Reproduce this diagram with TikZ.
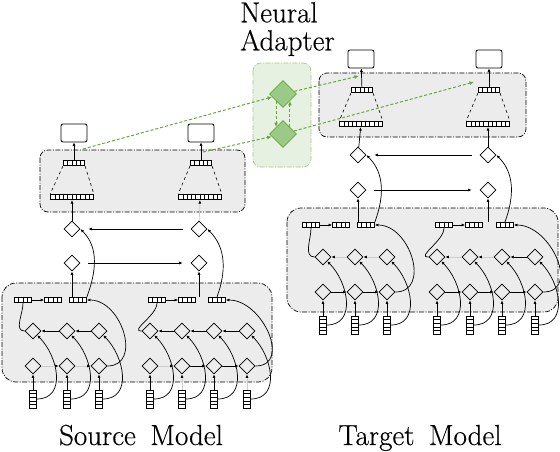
\documentclass[tikz,border=0pt]{standalone}
\usepackage{fontspec}
\usepackage{tikz}
\usetikzlibrary{shapes,arrows.meta,positioning}

\newfontfamily\captionfont[FakeBold=0.4]{Latin Modern Roman}

\definecolor{adaptgreen}{HTML}{6AA53E}
\definecolor{adaptfill}{HTML}{E7F1E2}
\definecolor{adaptdiam}{HTML}{9ACB86}
\definecolor{boxgray}{HTML}{ECECEC}

\tikzset{
  hbuf/.style={draw, fill=white, inner sep=0pt, line width=0.6pt,
    minimum height=5.5pt, minimum width=#1*4.3pt,
    path picture={\foreach \q in {1,...,#1}
      \draw ([xshift=\q*4.3pt]path picture bounding box.north west)
        -- ([xshift=\q*4.3pt]path picture bounding box.south west);}},
  vbuf/.style={draw, fill=white, inner sep=0pt, line width=0.6pt,
    minimum width=7pt, minimum height=#1*3.6pt,
    path picture={\foreach \q in {1,...,#1}
      \draw ([yshift=-\q*3.6pt]path picture bounding box.north west)
        -- ([yshift=-\q*3.6pt]path picture bounding box.north east);}},
}

\begin{document}
\begin{tikzpicture}[
    x=1pt, y=1pt,
    rnn/.style={diamond, draw, inner sep=0pt, minimum size=16pt,
                line width=0.8pt},
    adapt/.style={diamond, draw=adaptgreen, fill=adaptdiam, inner sep=0pt,
                  minimum size=27pt, line width=0.8pt},
    outbox/.style={draw, fill=white, rounded corners=2pt, inner sep=0pt,
                   minimum width=26pt, minimum height=18pt, line width=0.8pt},
    region/.style={draw, fill=boxgray, rounded corners=#1, line width=0.7pt,
                   dash pattern=on 5pt off 1.5pt on 1pt off 1.5pt},
    arrow/.style={-{Latex[length=3.5pt,width=3pt]}, line width=0.7pt},
    faint/.style={draw=black!20, line width=0.7pt,
                  -{Latex[length=3.5pt,width=3pt,color=black]}},
    link/.style={line width=0.7pt},
    funnel/.style={dashed, line width=0.6pt},
    gline/.style={draw=adaptgreen, line width=1pt, dash pattern=on 3pt off 2pt,
                  -{Latex[length=4.5pt,width=4pt]}},
    caption/.style={font=\captionfont\fontsize{29}{28}\selectfont, inner sep=0pt}
]
\useasboundingbox (0,0) rectangle (560,-452);

% shaded regions
\draw[region=14pt] (2,-283) rectangle (272,-382);
\draw[region=8pt] (40,-150) rectangle (245,-212);
\draw[region=14pt] (287,-208) rectangle (558,-312);
\draw[region=8pt] (319,-73) rectangle (526,-137);
\draw[region=8pt, draw=adaptgreen!60, fill=adaptfill] (253,-63) rectangle (311,-167);

% encoder groups
\foreach \g/\yy/\xs in {sa/0/{33,67,99}, sb/0/{150,182,214,247},
                        ta/74/{323,355,387}, tb/74/{437,470,502,535}}
  \foreach \x [count=\k] in \xs {
    \node[vbuf=5] (\g-in\k) at (\x,\yy-399) {};
    \node[rnn] (\g-lo\k) at (\x,\yy-366) {};
    \node[rnn] (\g-up\k) at (\x,\yy-331) {};
  }
\foreach \g/\yy/\xs in {sa/0/{23,53,78}, sb/0/{157,187,217},
                        ta/75/{311,341,366}, tb/75/{444,474,505}}
  \foreach \x [count=\k] in \xs
    \node[hbuf=4] (\g-buf\k) at (\x,\yy-300) {};

% decoders
\node[rnn] (sd-lo1) at (72,-263) {};
\node[rnn] (sd-lo2) at (199,-263) {};
\node[rnn] (sd-up1) at (72,-229) {};
\node[rnn] (sd-up2) at (199,-229) {};
\node[hbuf=10] (sd-wide1) at (72,-197) {};
\node[hbuf=10] (sd-wide2) at (200,-197) {};
\node[hbuf=5] (sd-narrow1) at (74,-163) {};
\node[hbuf=5] (sd-narrow2) at (201,-163) {};
\node[outbox] (sd-out1) at (74,-133) {};
\node[outbox] (sd-out2) at (201,-133) {};

\node[rnn] (td-lo1) at (358,-190) {};
\node[rnn] (td-lo2) at (488,-190) {};
\node[rnn] (td-up1) at (358,-155) {};
\node[rnn] (td-up2) at (488,-155) {};
\node[hbuf=10] (td-wide1) at (361,-124) {};
\node[hbuf=10] (td-wide2) at (488,-124) {};
\node[hbuf=5] (td-narrow1) at (362,-90) {};
\node[hbuf=5] (td-narrow2) at (489,-90) {};
\node[outbox] (td-out1) at (361,-59) {};
\node[outbox] (td-out2) at (489,-59) {};

% adapter
\node[adapt] (ad-top) at (283,-94) {};
\node[adapt] (ad-bot) at (283,-134) {};
\coordinate (src-tap1) at (83,-149);
\coordinate (src-tap2) at (203,-152);
\coordinate (tgt-tap1) at (359,-76);
\coordinate (tgt-tap2) at (474,-82);

% encoder links
\foreach \g/\n in {sa/3, sb/4, ta/3, tb/4} {
  \draw[link] (\g-up1.west) to[out=180,in=-90] (\g-buf1.south);
  \draw[arrow] (\g-buf1) -- (\g-buf2);
  \draw[arrow] (\g-lo\n.east) to[out=0,in=0,looseness=1.3] (\g-buf3.east);
  \foreach \k in {1,...,\n}
    \draw[arrow] (\g-in\k.east) to[out=0,in=-45,looseness=1.2] (\g-up\k.south east);
}
\foreach \g/\k/\s in {sa/1/arrow, sa/2/arrow, sa/3/arrow, sb/1/arrow, sb/2/faint,
                      sb/3/arrow, sb/4/faint, ta/1/arrow, ta/2/arrow, ta/3/arrow,
                      tb/1/arrow, tb/2/arrow, tb/3/arrow, tb/4/arrow}
  \draw[\s] (\g-in\k) -- (\g-lo\k);
\foreach \g/\k/\j/\s in {sa/1/2/faint, sa/2/3/faint, sb/1/2/faint, sb/2/3/arrow,
                         sb/3/4/arrow, ta/1/2/arrow, ta/2/3/arrow, tb/1/2/arrow,
                         tb/2/3/arrow, tb/3/4/arrow}
  \draw[\s] (\g-lo\k) -- (\g-lo\j);
\foreach \g/\k/\j/\s in {sa/2/1/arrow, sa/3/2/arrow, sb/2/1/arrow, sb/3/2/arrow,
                         sb/4/3/arrow, ta/2/1/faint, ta/3/2/faint, tb/2/1/faint,
                         tb/3/2/faint, tb/4/3/arrow}
  \draw[\s] (\g-up\k) -- (\g-up\j);

% decoder links
\foreach \d/\ea/\eb in {sd/sa/sb, td/ta/tb} {
  \draw[arrow] (\d-lo1.south |- \ea-buf3.north) -- (\d-lo1);
  \draw[arrow] (\d-lo2.south |- \eb-buf3.north) -- (\d-lo2);
  \draw[arrow] (\ea-buf3.north east) to[out=70,in=-45] (\d-up1.east);
  \draw[arrow] (\eb-buf3.north) to[out=70,in=-45] (\d-up2.east);
  \draw[arrow, shorten <=8pt, shorten >=8pt] (\d-lo1) -- (\d-lo2);
  \draw[arrow, shorten <=8pt, shorten >=8pt] (\d-up2) -- (\d-up1);
  \draw[arrow] (\d-up1) -- (\d-wide1);
  \foreach \k in {1,2} {
    \draw[arrow] (\d-narrow\k) -- (\d-out\k);
    \draw[funnel] (\d-narrow\k.south west) -- (\d-wide\k.north west)
                  (\d-narrow\k.south east) -- (\d-wide\k.north east);
  }
}
\draw[faint] (sd-up2) -- (sd-wide2);
\draw[arrow] (td-up2) -- (td-wide2);

% transfer through the adapter
\draw[gline] (src-tap1) -- (ad-top);
\draw[gline] (src-tap2) -- (ad-bot);
\draw[gline] (ad-top) -- (tgt-tap1);
\draw[gline] (ad-bot) -- (tgt-tap2);
\draw[gline] (ad-top.south west) -- (ad-bot.north west);
\draw[gline] (ad-bot.north east) -- (ad-top.south east);

% captions
\node[caption, anchor=north west, align=left] (adapter-label) at (240,-2)
  {Neural\\Adapter};
\node[caption, anchor=base] (src-label) at (141,-445) {Source\hspace{.5em}Model};
\node[caption, anchor=base] (tgt-label) at (420,-445) {Target\hspace{.5em}Model};
\end{tikzpicture}
\end{document}
